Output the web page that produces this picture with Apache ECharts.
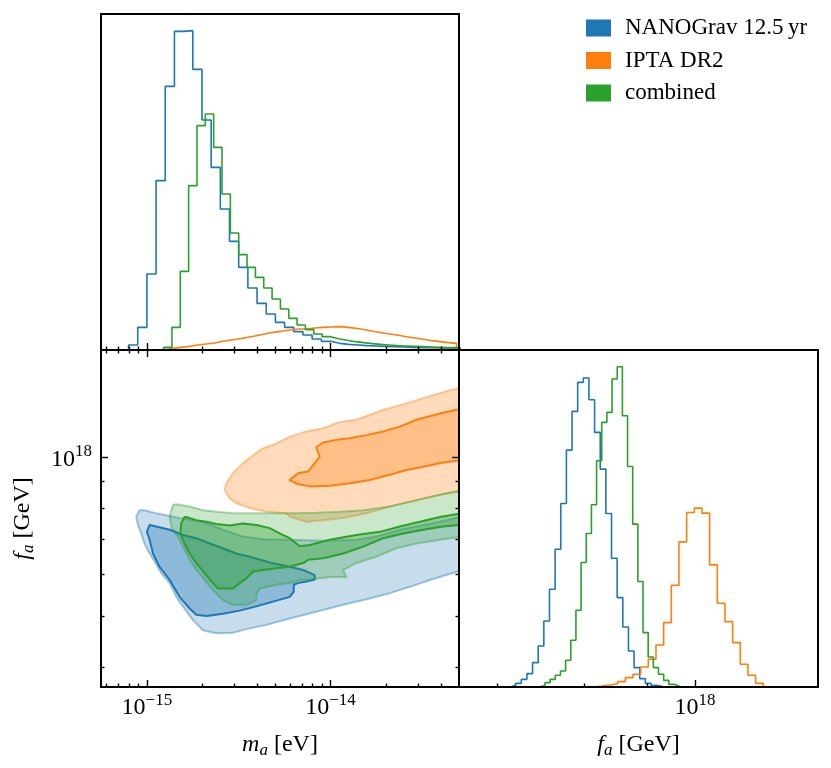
<!DOCTYPE html>
<html><head><meta charset="utf-8">
<script src="https://cdn.jsdelivr.net/npm/echarts@6/dist/echarts.min.js"></script>
<style>html,body{margin:0;padding:0;background:#fff}#c{width:831px;height:768px}</style>
</head><body><div id="c"></div><script>
const FONT = 'Liberation Serif';
const seriesNames = ['NANOGrav 12.5\u2009yr', 'IPTA DR2', 'combined'];
const seriesColors = ['#1f77b4', '#ff7f0e', '#2ca02c'];

// log10(m_a/eV) histograms: first bin edge, bin width, heights
const maBinStart = [-15.25, -14.949, -14.909];
const maBinWidth = [0.05, 0.04545, 0.04545];
const maHistBlue = [0,0,0,15,68,228,508,791,956,958,842,690,548,423,326,248,186,140,108,83,68,55,45,33,26,20,17,15,13,12,11,10,9,8,7,7,6,6,5];
const maHistOrange = [1,5,8,11,15,18,21,26,30,34,38,43,48,53,56,60,63,63,66,68,69,70,68,65,61,56,52,48,44,40,36,32,28,25,22,20];
const maHistGreen = [8,68,236,493,673,708,608,468,351,286,248,218,186,153,123,95,75,61,48,40,34,29,25,22,19,17,15,13,12,11,10,9,8,7,7,6];

// log10(f_a/GeV) histograms
const faBinStart = [17.6278, 17.7981, 17.6878];
const faBinWidth = [0.011348, 0.015426, 0.010383];
const faHistBlue = [5,11,23,40,73,123,198,293,413,550,710,826,913,926,861,763,653,520,386,268,180,108,58,25,11,5,2];
const faHistOrange = [3,6,10,16,28,38,60,83,126,193,305,435,523,536,521,366,251,196,133,68,35,11];
const faHistGreen = [5,13,23,35,48,80,140,230,373,460,546,678,793,823,923,960,813,661,488,316,163,90,58,38,20,8,3];

// axis ranges (log10)
const maRange = [-15.25, -13.30];
const faRangeY = [17.5655, 18.2030];
const faRangeX = [17.5252, 18.2475];

// ticks
const maMajor = [-15, -14];
const maMinorVals = [6e-16,7e-16,8e-16,9e-16,2e-15,3e-15,4e-15,5e-15,6e-15,7e-15,8e-15,9e-15,2e-14,3e-14,4e-14];
const faMajor = [18];
const faMinorValsY = [4e17,5e17,6e17,7e17,8e17,9e17];
const faMinorValsX = [4e17,6e17,8e17];

// 2D credible contours, [log10 m_a, log10 f_a]
const blueOuter = [[-15.040,17.900],[-15.058,17.888],[-15.049,17.872],[-15.031,17.856],[-15.013,17.837],[-14.985,17.818],[-14.958,17.803],[-14.922,17.781],[-14.876,17.762],[-14.840,17.736],[-14.804,17.718],[-14.749,17.692],[-14.695,17.673],[-14.622,17.667],[-14.531,17.668],[-14.458,17.675],[-14.349,17.683],[-14.222,17.695],[-14.077,17.708],[-13.931,17.721],[-13.786,17.733],[-13.677,17.743],[-13.568,17.755],[-13.459,17.768],[-13.25,17.790],[-13.25,17.891],[-13.404,17.878],[-13.495,17.872],[-13.622,17.863],[-13.750,17.850],[-13.859,17.844],[-14.040,17.842],[-14.222,17.844],[-14.368,17.845],[-14.477,17.850],[-14.586,17.863],[-14.695,17.878],[-14.822,17.885],[-14.949,17.894],[-15.013,17.900]];
const blueInner = [[-14.985,17.872],[-15.000,17.859],[-14.985,17.844],[-14.967,17.818],[-14.931,17.793],[-14.876,17.768],[-14.822,17.736],[-14.767,17.714],[-14.731,17.702],[-14.676,17.700],[-14.586,17.704],[-14.495,17.710],[-14.404,17.718],[-14.313,17.727],[-14.222,17.736],[-14.200,17.746],[-14.200,17.759],[-14.177,17.762],[-14.131,17.765],[-14.086,17.769],[-14.086,17.777],[-14.149,17.787],[-14.222,17.793],[-14.331,17.801],[-14.440,17.812],[-14.513,17.818],[-14.586,17.828],[-14.658,17.837],[-14.731,17.847],[-14.804,17.853],[-14.876,17.863],[-14.949,17.869]];
const orangeOuter = [[-13.25,18.134],[-13.350,18.127],[-13.495,18.112],[-13.586,18.102],[-13.713,18.090],[-13.859,18.071],[-13.950,18.067],[-14.040,18.055],[-14.131,18.049],[-14.222,18.039],[-14.295,18.026],[-14.368,18.017],[-14.422,18.004],[-14.477,17.989],[-14.531,17.970],[-14.567,17.951],[-14.577,17.938],[-14.549,17.922],[-14.513,17.913],[-14.440,17.904],[-14.349,17.897],[-14.240,17.894],[-14.222,17.888],[-14.131,17.878],[-14.040,17.881],[-13.931,17.885],[-13.804,17.894],[-13.677,17.907],[-13.531,17.919],[-13.404,17.929],[-13.25,17.938]];
const orangeInner = [[-13.25,18.095],[-13.404,18.083],[-13.531,18.071],[-13.622,18.058],[-13.713,18.049],[-13.804,18.042],[-13.895,18.036],[-13.968,18.033],[-14.040,18.028],[-14.077,18.019],[-14.059,18.001],[-14.086,17.989],[-14.122,17.973],[-14.177,17.970],[-14.222,17.957],[-14.186,17.950],[-14.113,17.945],[-14.004,17.946],[-13.895,17.951],[-13.786,17.957],[-13.677,17.967],[-13.586,17.976],[-13.495,17.982],[-13.386,17.990],[-13.25,17.996]];
const greenOuter = [[-14.858,17.910],[-14.867,17.900],[-14.876,17.888],[-14.867,17.869],[-14.831,17.850],[-14.804,17.831],[-14.767,17.806],[-14.731,17.787],[-14.686,17.768],[-14.640,17.749],[-14.586,17.730],[-14.531,17.721],[-14.458,17.721],[-14.404,17.730],[-14.404,17.740],[-14.386,17.752],[-14.295,17.759],[-14.204,17.763],[-14.168,17.768],[-14.113,17.769],[-14.040,17.772],[-13.968,17.774],[-13.913,17.773],[-13.931,17.787],[-13.859,17.800],[-13.750,17.812],[-13.641,17.828],[-13.531,17.837],[-13.404,17.844],[-13.25,17.852],[-13.25,17.941],[-13.404,17.929],[-13.531,17.919],[-13.677,17.907],[-13.822,17.900],[-13.950,17.897],[-14.077,17.895],[-14.222,17.894],[-14.349,17.894],[-14.458,17.894],[-14.531,17.894],[-14.622,17.897],[-14.695,17.900],[-14.767,17.907],[-14.840,17.911]];
const greenInner = [[-14.795,17.887],[-14.813,17.875],[-14.818,17.856],[-14.795,17.837],[-14.767,17.818],[-14.731,17.800],[-14.686,17.781],[-14.640,17.762],[-14.613,17.752],[-14.531,17.752],[-14.495,17.762],[-14.458,17.771],[-14.422,17.784],[-14.368,17.787],[-14.295,17.790],[-14.222,17.793],[-14.149,17.800],[-14.122,17.806],[-14.040,17.809],[-13.931,17.818],[-13.822,17.831],[-13.713,17.847],[-13.604,17.856],[-13.495,17.863],[-13.386,17.869],[-13.25,17.874],[-13.25,17.896],[-13.404,17.887],[-13.513,17.878],[-13.622,17.869],[-13.731,17.859],[-13.859,17.853],[-14.004,17.844],[-14.113,17.834],[-14.168,17.832],[-14.222,17.847],[-14.277,17.856],[-14.331,17.866],[-14.404,17.872],[-14.477,17.875],[-14.549,17.871],[-14.622,17.874],[-14.676,17.878],[-14.731,17.881],[-14.786,17.887]];

const maMinor = maMinorVals.map(Math.log10);
const faMinorY = faMinorValsY.map(Math.log10);
const faMinorX = faMinorValsX.map(Math.log10);

function stepPoints(start, width, h) {
  const pts = [[start, 0]];
  h.forEach((v, i) => { pts.push([start + i * width, v]); pts.push([start + (i + 1) * width, v]); });
  pts.push([start + h.length * width, 0]);
  return pts;
}
function rgba(hex, a) {
  const n = parseInt(hex.slice(1), 16);
  return 'rgba(' + (n >> 16) + ',' + ((n >> 8) & 255) + ',' + (n & 255) + ',' + a + ')';
}
const tickStyle = { color: '#000', width: 1.4 };
const richLabel = {
  b: { fontFamily: FONT, fontSize: 24, lineHeight: 28, verticalAlign: 'bottom', color: '#000' },
  s: { fontFamily: FONT, fontSize: 17, lineHeight: 17, verticalAlign: 'top', color: '#000' }
};
const richName = {
  i: { fontFamily: FONT, fontSize: 24, fontStyle: 'italic', lineHeight: 28, verticalAlign: 'middle', color: '#000' },
  s: { fontFamily: FONT, fontSize: 17, fontStyle: 'italic', lineHeight: 16, verticalAlign: 'bottom', color: '#000' },
  r: { fontFamily: FONT, fontSize: 24, lineHeight: 28, verticalAlign: 'middle', color: '#000' }
};
const pow10 = v => '{b|10}{s|' + String(Math.round(v)).replace('-', '\u2212') + '}';

function ax(grid, pos, range, ticks, len, extra) {
  return Object.assign({
    type: 'value', gridIndex: grid, position: pos, min: range[0], max: range[1], z: 6,
    axisLine: { show: false }, splitLine: { show: false },
    axisTick: { show: true, inside: true, length: len, customValues: ticks, lineStyle: tickStyle },
    axisLabel: { show: false }
  }, extra || {});
}

const xAxis = [
  ax(0, 'bottom', maRange, maMajor, 7),
  ax(0, 'bottom', maRange, maMinor, 3.5),
  ax(1, 'bottom', maRange, maMajor, 7, {
    axisLabel: { show: true, customValues: maMajor, margin: 5, formatter: pow10, rich: richLabel },
    name: '{i|m}{s|a}{r| [eV]}', nameLocation: 'middle', nameGap: 44,
    nameTextStyle: { rich: richName }
  }),
  ax(1, 'bottom', maRange, maMinor, 3.5),
  ax(1, 'top', maRange, maMajor, 7),
  ax(1, 'top', maRange, maMinor, 3.5),
  ax(2, 'bottom', faRangeX, faMajor, 7, {
    axisLabel: { show: true, customValues: faMajor, margin: 5, formatter: pow10, rich: richLabel },
    name: '{i|f}{s|a}{r| [GeV]}', nameLocation: 'middle', nameGap: 44,
    nameTextStyle: { rich: richName }
  }),
  ax(2, 'bottom', faRangeX, faMinorX, 3.5)
];
const yAxis = [
  { type: 'value', gridIndex: 0, min: 0, max: 1008, show: false },
  ax(1, 'left', faRangeY, faMajor, 7, {
    axisLabel: { show: true, customValues: faMajor, margin: 9, formatter: pow10, rich: richLabel },
    name: '{i|f}{s|a}{r| [GeV]}', nameLocation: 'middle', nameGap: 64, nameRotate: 90,
    nameTextStyle: { rich: richName }
  }),
  ax(1, 'left', faRangeY, faMinorY, 3.5),
  ax(1, 'right', faRangeY, faMajor, 7),
  ax(1, 'right', faRangeY, faMinorY, 3.5),
  { type: 'value', gridIndex: 2, min: 0, max: 1010, show: false }
];

function histSeries(i, data, xi, yi) {
  return {
    type: 'line', name: seriesNames[i], data: data, xAxisIndex: xi, yAxisIndex: yi,
    symbol: 'none', showSymbol: false, clip: true, silent: true, animation: false,
    lineStyle: { color: seriesColors[i], width: 1.6 }, itemStyle: { color: seriesColors[i] }
  };
}
function polySeries(i, pts, fill, stroke, lw) {
  return {
    type: 'custom', name: seriesNames[i], xAxisIndex: 2, yAxisIndex: 1, clip: true,
    silent: true, animation: false, data: [pts[0]],
    renderItem: function (params, api) {
      return {
        type: 'polygon',
        shape: { points: pts.map(p => api.coord(p)) },
        style: { fill: fill, stroke: stroke, lineWidth: lw, lineJoin: 'round' }
      };
    }
  };
}

const maHists = [maHistBlue, maHistOrange, maHistGreen];
const faHists = [faHistBlue, faHistOrange, faHistGreen];
const contours = [[blueOuter, blueInner], [orangeOuter, orangeInner], [greenOuter, greenInner]];
const outerAlpha = [0.25, 0.28, 0.25];
const innerAlpha = [0.35, 0.3, 0.35];

const series = [];
for (let i = 0; i < 3; i++) series.push(histSeries(i, stepPoints(maBinStart[i], maBinWidth[i], maHists[i]), 0, 0));
for (let i = 0; i < 3; i++) series.push(histSeries(i, stepPoints(faBinStart[i], faBinWidth[i], faHists[i]), 6, 5));
for (let i = 0; i < 3; i++) {
  const c = seriesColors[i];
  series.push(polySeries(i, contours[i][0], rgba(c, outerAlpha[i]), rgba(c, 0.4), 2));
  series.push(polySeries(i, contours[i][1], rgba(c, innerAlpha[i]), c, 2));
}

const gridBase = { show: true, borderColor: '#000', borderWidth: 2, backgroundColor: 'transparent', z: 10 };
const option = {
  animation: false,
  color: seriesColors,
  textStyle: { fontFamily: FONT },
  grid: [
    Object.assign({ left: 101, top: 14, width: 358, height: 336 }, gridBase),
    Object.assign({ left: 101, top: 350, width: 358, height: 337 }, gridBase),
    Object.assign({ left: 459, top: 350, width: 359, height: 337 }, gridBase)
  ],
  legend: {
    orient: 'vertical', left: 581, top: 11, itemWidth: 25, itemHeight: 17, itemGap: 8.5,
    selectedMode: false, icon: 'rect',
    textStyle: { fontFamily: FONT, fontSize: 23, color: '#000', lineHeight: 24, padding: [0, 0, 0, 9] },
    data: seriesNames.map((n, i) => ({ name: n, icon: 'rect', itemStyle: { color: seriesColors[i] } }))
  },
  xAxis: xAxis,
  yAxis: yAxis,
  series: series
};
const chart = echarts.init(document.getElementById('c'), null, { renderer: 'canvas' });
chart.setOption(option);
</script></body></html>
